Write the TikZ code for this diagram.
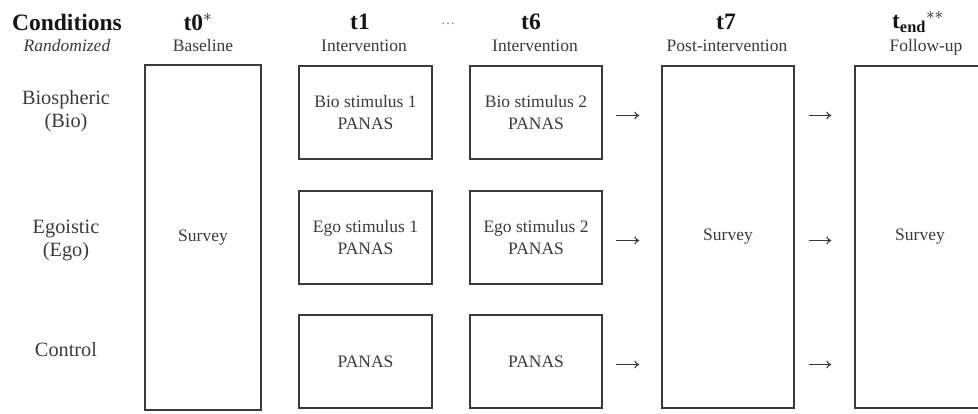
\documentclass[tikz,border=0pt]{standalone}
\usepackage{fontspec}
\setmainfont{Liberation Serif}
\usetikzlibrary{arrows.meta}
\definecolor{ink}{HTML}{3A3A3A}
\definecolor{head}{HTML}{151515}
\tikzset{
  box/.style={draw=ink, line width=1.3pt, inner sep=0pt, text=ink, align=center,
    font=\fontsize{17.5}{22}\selectfont},
  hdr/.style={text=head, font=\fontsize{23.5}{26}\selectfont\bfseries, inner sep=0pt},
  sub/.style={text=ink, font=\fontsize{17.5}{19}\selectfont, inner sep=0pt},
  rowlab/.style={text=ink, align=center, font=\fontsize{20.3}{23}\selectfont, inner sep=0pt},
  arr/.style={draw=ink, line width=1.1pt, -{To[length=5pt,width=8pt]}}
}
\begin{document}
\begin{tikzpicture}[x=1pt,y=-1pt]
\useasboundingbox (0,0) rectangle (978,414);
\clip (0,0) rectangle (978,414);
% headers
\node[hdr] (hc) at (67,22) {Conditions};
\node[sub, font=\fontsize{17.5}{19}\selectfont\itshape] (hr) at (67,46) {Randomized};
\node[hdr] (h0) at (198,22) {t0$^{*}$};
\node[sub] (s0h) at (203,46) {Baseline};
\node[hdr] (h1) at (360,22) {t1};
\node[sub] (s1h) at (364,46) {Intervention};
\node[text=gray, font=\fontsize{14}{16}\selectfont, inner sep=0pt] (dots) at (448,24) {\dots};
\node[hdr] (h6) at (531,22) {t6};
\node[sub] (s6h) at (535,46) {Intervention};
\node[hdr] (h7) at (726,22) {t7};
\node[sub] (s7h) at (727,46) {Post-intervention};
\node[hdr] (he) at (918,22) {t\textsubscript{end}$^{**}$};
\node[sub] (seh) at (926,47) {Follow-up};
% row labels
\node[rowlab] (rbio) at (66,111) {Biospheric\\(Bio)};
\node[rowlab] (rego) at (66,240) {Egoistic\\(Ego)};
\node[rowlab] (rctl) at (66,350) {Control};
% boxes
\node[box, minimum width=116pt, minimum height=345pt] (s0) at (203,237.5) {Survey};
\node[box, minimum width=133pt, minimum height=93pt] (b11) at (365.5,112.5) {Bio stimulus 1\\PANAS};
\node[box, minimum width=133pt, minimum height=93pt] (b12) at (365.5,237.5) {Ego stimulus 1\\PANAS};
\node[box, minimum width=133pt, minimum height=93pt] (b13) at (365.5,361.5) {PANAS};
\node[box, minimum width=132pt, minimum height=93pt] (b61) at (536,112.5) {Bio stimulus 2\\PANAS};
\node[box, minimum width=132pt, minimum height=93pt] (b62) at (536,237.5) {Ego stimulus 2\\PANAS};
\node[box, minimum width=132pt, minimum height=93pt] (b63) at (536,361.5) {PANAS};
\node[box, minimum width=132pt, minimum height=342pt] (s7) at (728,237) {Survey};
\node[box, minimum width=130pt, minimum height=342pt] (se) at (920,237) {Survey};
% arrows
\foreach \b in {b61,b62,b63}{
  \draw[arr, shorten <=13pt, shorten >=22pt] ([yshift=-3pt]\b.east) -- ([yshift=-3pt]\b.east -| s7.west);
  \draw[arr, shorten <=14pt, shorten >=23pt] ([yshift=-3pt]s7.east |- \b.east) -- ([yshift=-3pt]se.west |- \b.east);
}
\end{tikzpicture}
\end{document}
